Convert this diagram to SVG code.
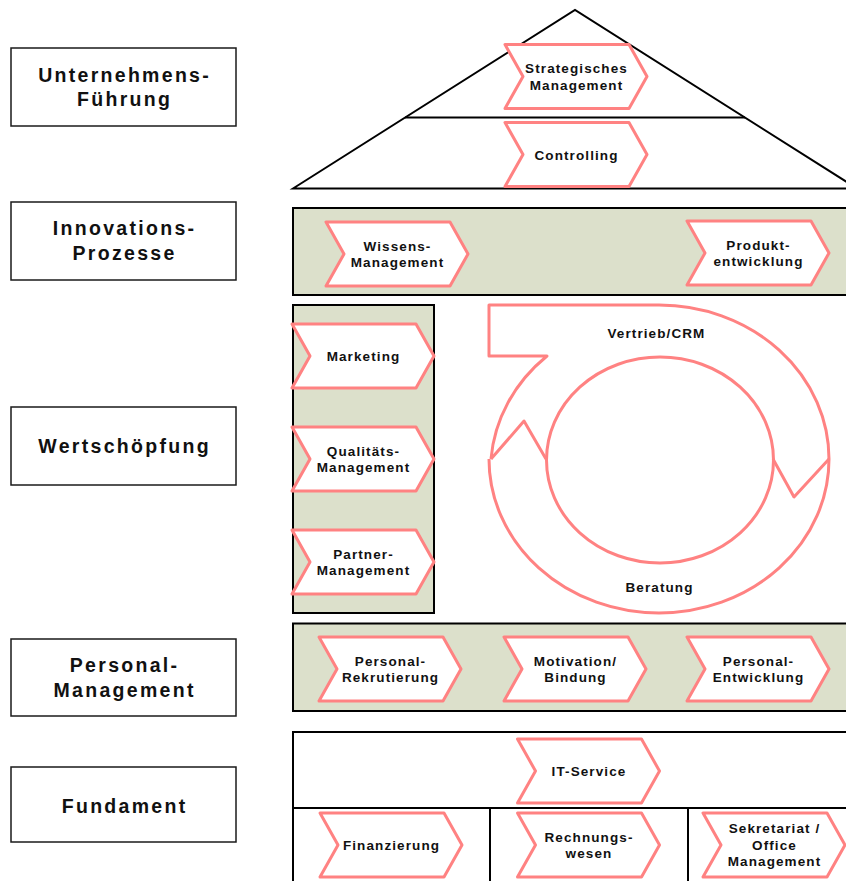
<svg xmlns="http://www.w3.org/2000/svg" width="846" height="881" viewBox="0 0 846 881">
<defs>
<style>
.lbl{fill:#fff;stroke:#1a1a1a;stroke-width:1.5}
.lt{font-family:"Liberation Sans",Arial,sans-serif;font-weight:bold;font-size:19.5px;letter-spacing:2.3px;fill:#111;text-anchor:middle}
.band{fill:#dce0cb;stroke:#000;stroke-width:2}
.frame{fill:#fff;stroke:#000;stroke-width:2}
.line{fill:none;stroke:#000;stroke-width:2}
.chev{fill:#fff;stroke:#ff8282;stroke-width:3;stroke-linejoin:round}
.ct{font-family:"Liberation Sans",Arial,sans-serif;font-weight:bold;font-size:13.5px;letter-spacing:1.1px;fill:#111;text-anchor:middle}
.ring{fill:none;stroke:#ff8282;stroke-width:3;stroke-linejoin:round}
</style>
<path id="chev" d="M0,0 H124 L142,32 L124,64 H0 L18,32 Z"/>
</defs>
<rect width="846" height="881" fill="#fff"/>

<!-- left labels -->
<g id="label-fuehrung"><rect class="lbl" x="11" y="48" width="225" height="78"/><text class="lt" x="124.6" y="81.5">Unternehmens-</text><text class="lt" x="124.6" y="105.5">Führung</text></g>
<g id="label-innovation"><rect class="lbl" x="11" y="202" width="225" height="78"/><text class="lt" x="124.6" y="235">Innovations-</text><text class="lt" x="124.6" y="260">Prozesse</text></g>
<g id="label-wertschoepfung"><rect class="lbl" x="11" y="407" width="225" height="78"/><text class="lt" x="124.6" y="453">Wertschöpfung</text></g>
<g id="label-personal"><rect class="lbl" x="11" y="639" width="225" height="77"/><text class="lt" x="124.6" y="671.5">Personal-</text><text class="lt" x="124.6" y="696.5">Management</text></g>
<g id="label-fundament"><rect class="lbl" x="11" y="767" width="225" height="75"/><text class="lt" x="124.6" y="812.5">Fundament</text></g>

<!-- house structure -->
<g id="roof"><path class="frame" d="M293,188.5 L575,10 L857,188.5 Z"/><line class="line" x1="405" y1="117.5" x2="745" y2="117.5"/></g>
<g id="band-innovation"><rect class="band" x="293" y="208" width="600" height="87"/></g>
<g id="column-wertschoepfung"><rect class="band" x="293" y="305" width="141" height="308"/></g>
<g id="band-personal"><rect class="band" x="293" y="623.5" width="600" height="87.5"/></g>
<g id="fundament"><rect class="frame" x="293" y="732" width="600" height="200"/><line class="line" x1="293" y1="808" x2="846" y2="808"/><line class="line" x1="490" y1="808" x2="490" y2="881"/><line class="line" x1="688" y1="808" x2="688" y2="881"/></g>

<!-- cycle -->
<g id="cycle">
<ellipse class="ring" cx="660" cy="460" rx="113.5" ry="103"/>
<path class="ring" d="M489,459 A170,154 0 0 0 829,459 A170,154 0 0 0 659,305 L489,305 L489,356 L547,356 A170,154 0 0 0 491,459"/>
<path class="ring" d="M491,459 L524,421 L546,459"/>
<path class="ring" d="M829,459 L794,497 L773,459"/>
<text class="ct" x="656.5" y="337.5">Vertrieb/CRM</text>
<text class="ct" x="659.5" y="592">Beratung</text>
</g>

<!-- chevrons -->
<g id="strategisches-management"><use href="#chev" class="chev" x="505" y="44.5"/><text class="ct" x="576.5" y="73">Strategisches</text><text class="ct" x="576.5" y="89.5">Management</text></g>
<g id="controlling"><use href="#chev" class="chev" x="505" y="122.5"/><text class="ct" x="576.5" y="159.5">Controlling</text></g>
<g id="wissens-management"><use href="#chev" class="chev" x="326" y="222"/><text class="ct" x="397.5" y="250.5">Wissens-</text><text class="ct" x="397.5" y="267">Management</text></g>
<g id="produktentwicklung"><use href="#chev" class="chev" x="687" y="221"/><text class="ct" x="758.5" y="249.5">Produkt-</text><text class="ct" x="758.5" y="266">entwicklung</text></g>
<g id="marketing"><use href="#chev" class="chev" x="292" y="324"/><text class="ct" x="363.5" y="361">Marketing</text></g>
<g id="qualitaets-management"><use href="#chev" class="chev" x="292" y="427"/><text class="ct" x="363.5" y="455.5">Qualitäts-</text><text class="ct" x="363.5" y="472">Management</text></g>
<g id="partner-management"><use href="#chev" class="chev" x="292" y="530"/><text class="ct" x="363.5" y="558.5">Partner-</text><text class="ct" x="363.5" y="575">Management</text></g>
<g id="personal-rekrutierung"><use href="#chev" class="chev" x="319" y="637"/><text class="ct" x="390.5" y="665.5">Personal-</text><text class="ct" x="390.5" y="682">Rekrutierung</text></g>
<g id="motivation-bindung"><use href="#chev" class="chev" x="504" y="637"/><text class="ct" x="575.5" y="665.5">Motivation/</text><text class="ct" x="575.5" y="682">Bindung</text></g>
<g id="personal-entwicklung"><use href="#chev" class="chev" x="687" y="637"/><text class="ct" x="758.5" y="665.5">Personal-</text><text class="ct" x="758.5" y="682">Entwicklung</text></g>
<g id="it-service"><use href="#chev" class="chev" x="517.5" y="739"/><text class="ct" x="589" y="776">IT-Service</text></g>
<g id="finanzierung"><use href="#chev" class="chev" x="320" y="813"/><text class="ct" x="391.5" y="850">Finanzierung</text></g>
<g id="rechnungswesen"><use href="#chev" class="chev" x="517.5" y="813"/><text class="ct" x="589" y="841.5">Rechnungs-</text><text class="ct" x="589" y="858">wesen</text></g>
<g id="sekretariat"><use href="#chev" class="chev" x="703" y="813"/><text class="ct" x="774.5" y="833">Sekretariat /</text><text class="ct" x="774.5" y="849.5">Office</text><text class="ct" x="774.5" y="866">Management</text></g>
</svg>
